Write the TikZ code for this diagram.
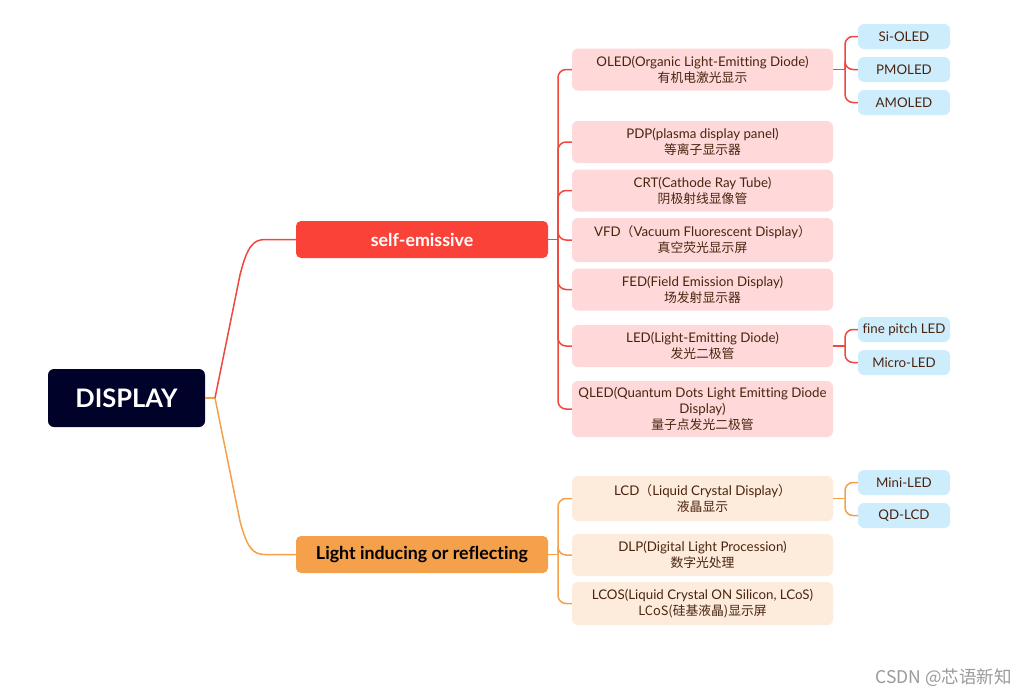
\documentclass[tikz,border=0pt]{standalone}
\usepackage{fontspec}
\setmainfont{Lato}[Ligatures=NoCommon]
\newfontfamily\cjk{Noto Sans CJK SC}
\newcommand{\zh}[1]{{\cjk\fontsize{12.8}{16}\selectfont #1}}
\definecolor{dispf}{HTML}{000229}
\definecolor{redf}{HTML}{FA4238}
\definecolor{orf}{HTML}{F5A04B}
\definecolor{redl}{HTML}{F0483E}
\definecolor{orl}{HTML}{F5A04A}
\definecolor{pinkf}{HTML}{FFD9D9}
\definecolor{creamf}{HTML}{FDEBDC}
\definecolor{bluef}{HTML}{CDEDFD}
\definecolor{txt}{HTML}{4A2410}
\definecolor{wm}{HTML}{9A9A9A}
\begin{document}
\begin{tikzpicture}[x=1pt,y=-1pt,
  base/.style={rounded corners=6pt, inner sep=0pt, align=center, font=\fontsize{13.3}{16}\selectfont, text=txt},
  pinkbox/.style={base, fill=pinkf, minimum width=261pt, minimum height=42pt},
  creambox/.style={base, fill=creamf, minimum width=261pt, minimum height=42pt},
  bluebox/.style={base, fill=bluef, minimum width=92pt, minimum height=25pt},
  mainbox/.style={rounded corners=5pt, inner sep=0pt, minimum width=252pt, minimum height=37pt, font=\fontsize{17.8}{20}\selectfont\bfseries},
  rl/.style={draw=redl, line width=1.5pt},
  ol/.style={draw=orl, line width=1.5pt},
  br/.style={rounded corners=8pt}
]
\path[use as bounding box, fill=white] (0,0) rectangle (1026,696);

% root and main branches
\node[rounded corners=6pt, fill=dispf, minimum width=157pt, minimum height=58pt, inner sep=0pt, text=white, font=\fontsize{25.5}{28}\selectfont\bfseries] (disp) at (126.5,398) {DISPLAY};
\node[mainbox, fill=redf, text=white] (se) at (422,239.5) {self-emissive};
\node[mainbox, fill=orf, text=black] (lir) at (422,554.5) {Light inducing or reflecting};

% self-emissive children
\node[pinkbox] (oled) at (702.5,69.5) {OLED(Organic Light-Emitting Diode)\\\zh{有机电激光显示}};
\node[pinkbox] (pdp) at (702.5,142) {PDP(plasma display panel)\\\zh{等离子显示器}};
\node[pinkbox] (crt) at (702.5,190.5) {CRT(Cathode Ray Tube)\\\zh{阴极射线显像管}};
\node[pinkbox, minimum height=44pt] (vfd) at (702.5,240) {VFD\zh{（}Vacuum Fluorescent Display\zh{）}\\\zh{真空荧光显示屏}};
\node[pinkbox] (fed) at (702.5,289.5) {FED(Field Emission Display)\\\zh{场发射显示器}};
\node[pinkbox] (led) at (702.5,346) {LED(Light-Emitting Diode)\\\zh{发光二极管}};
\node[pinkbox, minimum height=56pt] (qled) at (702.5,409) {QLED(Quantum Dots Light Emitting Diode\\Display)\\\zh{量子点发光二极管}};

% light inducing children
\node[creambox, minimum height=45pt] (lcd) at (702.5,498.5) {LCD\zh{（}Liquid Crystal Display\zh{）}\\\zh{液晶显示}};
\node[creambox] (dlp) at (702.5,555) {DLP(Digital Light Procession)\\\zh{数字光处理}};
\node[creambox, minimum height=43pt] (lcos) at (702.5,603.5) {LCOS(Liquid Crystal ON Silicon, LCoS)\\\zh{LCoS(硅基液晶)显示屏}};

% grandchildren
\node[bluebox] (sioled) at (904,36.5) {Si-OLED};
\node[bluebox] (pmoled) at (904,69.5) {PMOLED};
\node[bluebox] (amoled) at (904,102.5) {AMOLED};
\node[bluebox] (fpled) at (904,329.5) {fine pitch LED};
\node[bluebox] (microled) at (904,362.5) {Micro-LED};
\node[bluebox] (miniled) at (904,482.5) {Mini-LED};
\node[bluebox] (qdlcd) at (904,515.5) {QD-LCD};

% junctions
\coordinate (dj) at (215,398);
\coordinate (sj) at (558,239.5);
\coordinate (lj) at (558,554.5);
\coordinate (oj) at (845,69.5);
\coordinate (ej) at (845,346);
\coordinate (cj) at (845,498.5);

% root connectors
\draw[ol] (disp.east) -- (dj);
\draw[rl] (dj) -- (240,275) .. controls (247,247) and (253,239.5) .. (265,239.5) -- (se.west);
\draw[ol] (dj) -- (240,521) .. controls (247,548) and (253,554.5) .. (265,554.5) -- (lir.west);

% self-emissive connectors
\draw[rl] (se.east) -- (sj);
\foreach \n in {oled,pdp,crt,vfd,fed,led,qled} \draw[rl,br] (sj) |- (\n.west);
\draw[rl] (oled.east) -- (oj);
\foreach \n in {sioled,pmoled,amoled} \draw[rl,br] (oj) |- (\n.west);
\draw[rl] (led.east) -- (ej);
\foreach \n in {fpled,microled} \draw[rl,br] (ej) |- (\n.west);

% light inducing connectors
\draw[ol] (lir.east) -- (lj);
\foreach \n in {lcd,dlp,lcos} \draw[ol,br] (lj) |- (\n.west);
\draw[ol] (lcd.east) -- (cj);
\foreach \n in {miniled,qdlcd} \draw[ol,br] (cj) |- (\n.west);

% watermark
\node[anchor=east, text=wm, font=\cjk\fontsize{17.5}{19}\selectfont, inner sep=0pt] (wmk) at (1012,678) {CSDN @芯语新知};
\end{tikzpicture}
\end{document}
